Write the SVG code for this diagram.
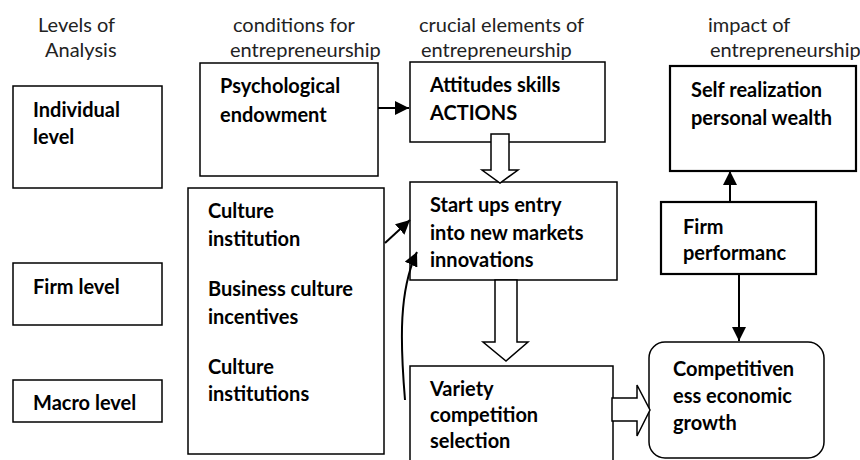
<svg xmlns="http://www.w3.org/2000/svg" width="860" height="460" viewBox="0 0 860 460">
<defs>
<style>
.box{fill:#fff;stroke:#000;stroke-width:1.5}
.thick{fill:#fff;stroke:#000;stroke-width:2.2}
.blk{fill:#fff;stroke:#000;stroke-width:1.5;stroke-linejoin:miter}
.hd{font-family:Lato,"Liberation Sans",sans-serif;font-size:20px;fill:#222}
.b{font-family:Lato,"Liberation Sans",sans-serif;font-size:20px;font-weight:bold;fill:#000}
.con{fill:none;stroke:#000;stroke-width:2}
</style>
<marker id="ah" viewBox="0 0 14 14" refX="14" refY="7" markerWidth="14" markerHeight="14" orient="auto" markerUnits="userSpaceOnUse">
<path d="M0,0 L14,7 L0,14 z" fill="#000"/>
</marker>
</defs>
<rect width="860" height="460" fill="#fff"/>
<g id="headers">
<text class="hd" x="38" y="31.5">Levels of</text>
<text class="hd" x="45" y="56.5">Analysis</text>
<text class="hd" x="233" y="31.5">conditions for</text>
<text class="hd" x="230" y="56.5">entrepreneurship</text>
<text class="hd" x="419" y="31.5">crucial elements of</text>
<text class="hd" x="421" y="56.5">entrepreneurship</text>
<text class="hd" x="708" y="31.5">impact of</text>
<text class="hd" x="710" y="56.5">entrepreneurship</text>
</g>
<g id="individual">
<rect class="box" x="13" y="86" width="149" height="102"/>
<text class="b" x="33" y="117">Individual</text>
<text class="b" x="33" y="144">level</text>
</g>
<g id="firmlevel">
<rect class="box" x="13" y="263" width="149" height="62"/>
<text class="b" x="33" y="294">Firm level</text>
</g>
<g id="macro">
<rect class="box" x="13" y="380" width="149" height="42"/>
<text class="b" x="33" y="410">Macro level</text>
</g>
<g id="psych">
<rect class="box" x="200" y="63" width="178" height="113"/>
<text class="b" x="220" y="93">Psychological</text>
<text class="b" x="220" y="121.5">endowment</text>
</g>
<g id="culture">
<rect class="box" x="188" y="188" width="196" height="266"/>
<text class="b" x="208" y="218">Culture</text>
<text class="b" x="208" y="246">institution</text>
<text class="b" x="208" y="296">Business culture</text>
<text class="b" x="208" y="323.5">incentives</text>
<text class="b" x="208" y="373.5">Culture</text>
<text class="b" x="208" y="401">institutions</text>
</g>
<g id="attitudes">
<rect class="box" x="410" y="62" width="195" height="80"/>
<text class="b" x="430" y="92">Attitudes skills</text>
<text class="b" x="430" y="119.5">ACTIONS</text>
</g>
<g id="startups">
<rect class="box" x="410" y="182" width="207" height="98"/>
<text class="b" x="430" y="211.5">Start ups entry</text>
<text class="b" x="430" y="239.5">into new markets</text>
<text class="b" x="430" y="267">innovations</text>
</g>
<g id="variety">
<rect class="box" x="410" y="366" width="203" height="110"/>
<text class="b" x="430" y="396">Variety</text>
<text class="b" x="430" y="422">competition</text>
<text class="b" x="430" y="448">selection</text>
</g>
<g id="selfreal">
<rect class="thick" x="670" y="66" width="186" height="105"/>
<text class="b" x="691" y="97">Self realization</text>
<text class="b" x="691" y="125">personal wealth</text>
</g>
<g id="firmperf">
<rect class="thick" x="661" y="202" width="155" height="72"/>
<text class="b" x="683" y="234">Firm</text>
<text class="b" x="683" y="260">performanc</text>
</g>
<g id="compet">
<rect class="box" x="649" y="342" width="175" height="116" rx="16" ry="16"/>
<text class="b" x="673" y="376">Competitiven</text>
<text class="b" x="673" y="403">ess economic</text>
<text class="b" x="673" y="430">growth</text>
</g>
<g id="connectors">
<path class="con" d="M378,108 L409,108" marker-end="url(#ah)"/>
<path class="con" d="M730,202 L730,171" marker-end="url(#ah)"/>
<path class="con" d="M739,274 L739,341" marker-end="url(#ah)"/>
<path class="con" d="M385,243 L410,220" marker-end="url(#ah)"/>
<path class="con" d="M405,400 C400,340 399,290 417,252" marker-end="url(#ah)"/>
<polygon class="blk" points="491,134 509,134 509,170 518,170 500,183 482,170 491,170"/>
<polygon class="blk" points="495,280 517,280 517,342 528,342 506,361 483,342 495,342"/>
<polygon class="blk" points="612,398 637,398 637,385 650,410 637,436 637,421 612,421"/>
</g>
</svg>
